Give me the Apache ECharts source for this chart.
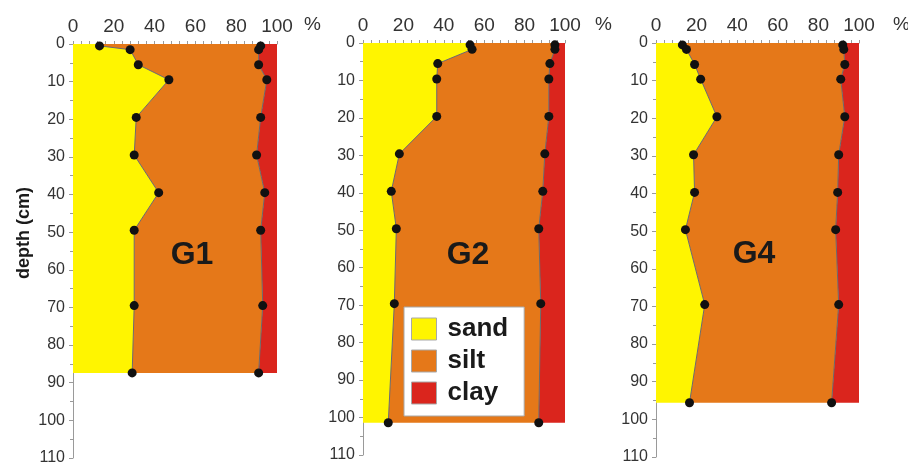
<!DOCTYPE html>
<html>
<head>
<meta charset="utf-8">
<script src="https://cdn.jsdelivr.net/npm/echarts@6/dist/echarts.min.js"></script>
<style>
  html, body { margin: 0; padding: 0; background: #fff; }
  #chart { width: 908px; height: 470px; }
</style>
</head>
<body>
<div id="chart"></div>
<script>
// grain size fractions (%) per sampling depth (cm)
const fractions = ['sand', 'silt', 'clay'];
const panels = ['G1', 'G2', 'G4'];
const xTicks = [0, 20, 40, 60, 80, 100];

const g1Depth = [0.5, 1.5, 5.5, 9.5, 19.5, 29.5, 39.5, 49.5, 69.5, 87.4];
const g1Sand  = [13, 28, 32, 47, 31, 30, 42, 30, 30, 29];
const g1Silt  = [79, 63, 59, 48, 61, 60, 52, 62, 63, 62];
const g1Clay  = [8, 9, 9, 5, 8, 10, 6, 8, 7, 9];

const g2Depth = [0.5, 1.7, 5.5, 9.6, 19.6, 29.6, 39.6, 49.6, 69.6, 101.4];
const g2Sand  = [53, 54, 37, 36.5, 36.5, 18, 14, 16.5, 15.5, 12.5];
const g2Silt  = [42, 41, 55.5, 55.5, 55.5, 72, 75, 70.5, 72.5, 74.5];
const g2Clay  = [5, 5, 7.5, 8, 8, 10, 11, 13, 12, 13];

const g4Depth = [0.5, 1.7, 5.7, 9.6, 19.6, 29.7, 39.7, 49.6, 69.5, 95.6];
const g4Sand  = [13, 15, 19, 22, 30, 18.5, 19, 14.5, 24, 16.5];
const g4Silt  = [79, 77.5, 74, 69, 63, 71.5, 70.5, 74, 66, 70];
const g4Clay  = [8, 7.5, 7, 9, 7, 10, 10.5, 11.5, 10, 13.5];

const colors = { sand: '#fff500', silt: '#e57819', clay: '#da251d' };

const profiles = [
  { depth: g1Depth, sand: g1Sand, silt: g1Silt, clay: g1Clay },
  { depth: g2Depth, sand: g2Sand, silt: g2Silt, clay: g2Clay },
  { depth: g4Depth, sand: g4Sand, silt: g4Silt, clay: g4Clay }
];

// pixel layout of the three panels
const grids = [
  { left: 73, top: 44, width: 204, height: 414 },
  { left: 363, top: 43, width: 202, height: 412 },
  { left: 656, top: 43, width: 203, height: 414 }
];
const pctX = [304, 595, 893];
const labelPos = [[192, 255], [468, 255], [754, 254]];

const chart = echarts.init(document.getElementById('chart'));

// filled band between two cumulative boundaries, running down the depth axis
function band(name, gi, depth, leftVals, rightVals) {
  return {
    type: 'custom',
    name: name,
    xAxisIndex: gi,
    yAxisIndex: gi,
    itemStyle: { color: colors[name] },
    data: [[0, 0]],
    z: 1,
    silent: true,
    renderItem: function (params, api) {
      const n = depth.length;
      const pts = [api.coord([leftVals[0], 0])];
      for (let i = 0; i < n; i++) pts.push(api.coord([leftVals[i], depth[i]]));
      for (let i = n - 1; i >= 0; i--) pts.push(api.coord([rightVals[i], depth[i]]));
      pts.push(api.coord([rightVals[0], 0]));
      return {
        type: 'polygon',
        shape: { points: pts },
        style: { fill: colors[name], stroke: null }
      };
    }
  };
}

function boundary(gi, depth, vals) {
  return {
    type: 'line',
    xAxisIndex: gi,
    yAxisIndex: gi,
    data: vals.map((v, i) => [v, depth[i]]),
    symbol: 'circle',
    symbolSize: 9,
    itemStyle: { color: '#111' },
    lineStyle: { color: '#6b6b6b', width: 1 },
    z: 4,
    silent: true
  };
}

const xAxes = [], yAxes = [], series = [], graphics = [];

profiles.forEach((p, gi) => {
  const zeros = p.depth.map(() => 0);
  const hundreds = p.depth.map(() => 100);
  const cumSand = p.sand.slice();
  const cumSilt = p.sand.map((s, i) => s + p.silt[i]);

  xAxes.push({
    gridIndex: gi,
    type: 'value',
    position: 'top',
    min: 0, max: 100, interval: 20,
    axisLine: { show: true, lineStyle: { color: '#9a9a9a', width: 1 } },
    axisTick: { show: true, length: 3, lineStyle: { color: '#9a9a9a' } },
    minorTick: { show: true, splitNumber: 5, length: 3, lineStyle: { color: '#9a9a9a' } },
    splitLine: { show: false },
    axisLabel: {
      color: '#333', fontSize: 19, margin: 8,
      fontFamily: 'Liberation Sans, Arial, sans-serif',
      customValues: xTicks
    }
  });
  yAxes.push({
    gridIndex: gi,
    type: 'value',
    inverse: true,
    min: 0, max: 110, interval: 10,
    axisLine: { show: true, lineStyle: { color: '#9a9a9a', width: 1 } },
    axisTick: { show: true, length: 4, lineStyle: { color: '#9a9a9a' } },
    minorTick: { show: true, splitNumber: 2, length: 3, lineStyle: { color: '#9a9a9a' } },
    splitLine: { show: false },
    axisLabel: {
      color: '#333', fontSize: 16, margin: 8,
      fontFamily: 'Liberation Sans, Arial, sans-serif'
    }
  });

  series.push(band('sand', gi, p.depth, zeros, cumSand));
  series.push(band('silt', gi, p.depth, cumSand, cumSilt));
  series.push(band('clay', gi, p.depth, cumSilt, hundreds));
  series.push(boundary(gi, p.depth, cumSand));
  series.push(boundary(gi, p.depth, cumSilt));

  graphics.push({
    type: 'text', x: pctX[gi], y: 25, z: 10,
    style: {
      text: '%', fill: '#333', fontSize: 19,
      fontFamily: 'Liberation Sans, Arial, sans-serif',
      verticalAlign: 'middle'
    }
  });
  graphics.push({
    type: 'text', x: labelPos[gi][0], y: labelPos[gi][1], z: 10,
    style: {
      text: panels[gi], fill: '#1a1a1a', fontSize: 32, fontWeight: 'bold',
      fontFamily: 'Liberation Sans, Arial, sans-serif',
      align: 'center', verticalAlign: 'middle'
    }
  });
});

graphics.push({
  type: 'text', x: 24, y: 233, rotation: Math.PI / 2, z: 10,
  style: {
    text: 'depth (cm)', fill: '#1a1a1a', fontSize: 18, fontWeight: 'bold',
    fontFamily: 'Liberation Sans, Arial, sans-serif',
    align: 'center', verticalAlign: 'middle'
  }
});

chart.setOption({
  animation: false,
  backgroundColor: '#fff',
  grid: grids.map(g => Object.assign({ containLabel: false }, g)),
  xAxis: xAxes,
  yAxis: yAxes,
  legend: {
    data: fractions,
    orient: 'vertical',
    left: 404,
    top: 307,
    icon: 'rect',
    itemWidth: 25,
    itemHeight: 22,
    itemGap: 6,
    padding: [9, 16, 10, 7],
    backgroundColor: '#fff',
    borderColor: '#a8a8a8',
    borderWidth: 1,
    itemStyle: { borderColor: '#a8a8a8', borderWidth: 1 },
    selectedMode: false,
    textStyle: {
      color: '#1a1a1a', fontSize: 26, fontWeight: 'bold',
      fontFamily: 'Liberation Sans, Arial, sans-serif',
      padding: [0, 0, 0, 6]
    },
    z: 20
  },
  graphic: graphics,
  series: series
});
</script>
</body>
</html>
